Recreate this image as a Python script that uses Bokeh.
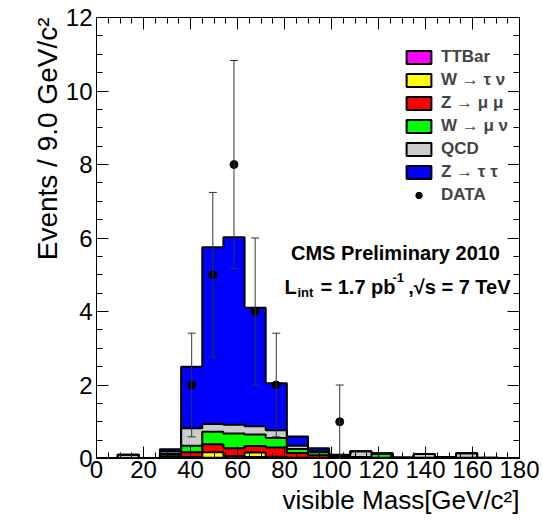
import numpy as np
from bokeh.plotting import figure
from bokeh.models import (Range1d, LinearAxis, SingleIntervalTicker, Label, Legend, LegendItem,
                          ColumnDataSource, Whisker, TeeHead, CustomJSTickFormatter, Title)
from bokeh.embed import file_html
from bokeh.resources import INLINE

# ---------------- data ----------------
bin_edges = [0, 9, 18, 27, 36, 45, 54, 63, 72, 81, 90, 99, 108, 117, 126, 135, 144, 153, 162, 171, 180]
ttbar    = [0, 0,    0,    0,    0.01, 0.02, 0.05, 0.04, 0.02, 0,    0,    0,    0,    0,    0,    0,    0,    0,    0,    0]
w_taunu  = [0, 0,    0,    0.01, 0.03, 0.15, 0.02, 0.12, 0.03, 0.02, 0,    0,    0,    0,    0,    0,    0,    0,    0,    0]
z_mumu   = [0, 0,    0,    0.05, 0.13, 0.22, 0.21, 0.18, 0.25, 0.13, 0.09, 0.02, 0,    0.02, 0,    0,    0,    0,    0,    0]
w_munu   = [0, 0,    0,    0.06, 0.18, 0.34, 0.40, 0.31, 0.26, 0.11, 0.08, 0.05, 0.04, 0.10, 0,    0.02, 0,    0.02, 0,    0]
qcd      = [0, 0.10, 0.01, 0.07, 0.47, 0.21, 0.24, 0.23, 0.21, 0.09, 0.02, 0.02, 0.16, 0.02, 0.03, 0.10, 0.04, 0.12, 0.02, 0]
z_tautau = [0, 0,    0,    0.06, 1.68, 4.81, 5.10, 3.22, 1.28, 0.25, 0.09, 0.01, 0,    0,    0,    0,    0,    0,    0,    0]

data_x   = [40.5, 49.5, 58.5, 67.5, 76.5, 103.5]
data_n   = [2, 5, 8, 4, 2, 1]
data_err = [1.41, 2.24, 2.83, 2.0, 1.41, 1.0]

layer_names  = ["TTBar", "W \u2192 \u03c4 \u03bd", "Z \u2192 \u03bc \u03bc", "W \u2192 \u03bc \u03bd", "QCD", "Z \u2192 \u03c4 \u03c4"]
layer_colors = ["#FF00FF", "#FFFF00", "#FF0000", "#00FF00", "#CCCCCC", "#0000FF"]
layers = [ttbar, w_taunu, z_mumu, w_munu, qcd, z_tautau]

x_title = "visible Mass[GeV/c\u00b2]"
y_title = "Events / 9.0 GeV/c\u00b2"

# ---------------- geometry ----------------
W, H = 543, 520
FL, FT, FR, FB = 96, 17, 519, 458       # frame in canvas pixels
XMIN, XMAX, YMIN, YMAX = 0, 180, 0, 12
FONT = "Liberation Sans"

def px2x(px):
    return XMIN + (px - FL) / (FR - FL) * (XMAX - XMIN)

def py2y(py):
    return YMIN + (FB - py) / (FB - FT) * (YMAX - YMIN)

p = figure(width=W, height=H, output_backend="svg", toolbar_location=None,
           x_range=Range1d(XMIN, XMAX), y_range=Range1d(YMIN, YMAX),
           min_border_left=FL, min_border_top=FT, min_border_right=W - FR, min_border_bottom=H - FB,
           x_axis_type=None, y_axis_type=None)
p.background_fill_color = "white"
p.border_fill_color = "white"
p.outline_line_color = "black"
p.outline_line_width = 1
p.xgrid.visible = False
p.ygrid.visible = False

def style_axis(ax, labels=True):
    ax.axis_line_color = "black"
    ax.axis_line_width = 1
    ax.major_tick_in = 12
    ax.major_tick_out = 0
    ax.minor_tick_in = 6
    ax.minor_tick_out = 0
    ax.major_tick_line_color = "black"
    ax.minor_tick_line_color = "black"
    if labels:
        ax.major_label_text_font = FONT
        ax.major_label_text_font_size = "24px"
        ax.major_label_text_color = "black"
    else:
        ax.formatter = CustomJSTickFormatter(code="return ''")
        ax.major_label_text_font_size = "1px"
        ax.major_label_standoff = 0

xb = LinearAxis(ticker=SingleIntervalTicker(interval=20, num_minor_ticks=4)); style_axis(xb); xb.major_label_standoff = 2
yl = LinearAxis(ticker=SingleIntervalTicker(interval=2, num_minor_ticks=4)); style_axis(yl); yl.major_label_standoff = 4
xa = LinearAxis(ticker=SingleIntervalTicker(interval=20, num_minor_ticks=4)); style_axis(xa, False)
yr = LinearAxis(ticker=SingleIntervalTicker(interval=2, num_minor_ticks=4)); style_axis(yr, False)

p.add_layout(xb, "below")
p.add_layout(yl, "left")
p.add_layout(xa, "above")
p.add_layout(yr, "right")

# axis titles, aligned to the far end of each axis as in the reference
p.add_layout(Title(text=x_title, align="right", text_font=FONT, text_font_size="26px",
                   text_font_style="normal", text_color="black", standoff=5, offset=0), "below")
p.add_layout(Title(text=y_title, align="right", text_font=FONT, text_font_size="28px",
                   text_font_style="normal", text_color="black", standoff=0, offset=0), "left")

# ---------------- stacked histogram ----------------
arr = np.array(layers, dtype=float)
cum = np.cumsum(arr, axis=0)
edges = list(bin_edges)

swatches = []
prev = np.zeros(arr.shape[1])
for i in range(len(layers)):
    top = cum[i]
    p.varea_step(x=edges, y1=list(prev) + [prev[-1]], y2=list(top) + [top[-1]],
                 step_mode="after", fill_color=layer_colors[i])
    # hidden copy used only to draw the outlined legend swatch
    sw = p.quad(left=edges[:-1], right=edges[1:], bottom=list(prev), top=list(top),
                fill_color=layer_colors[i], line_color="black", line_width=2, visible=False)
    swatches.append(sw)
    prev = top
for i in range(len(layers) - 1, -1, -1):
    top = cum[i]
    p.step(x=edges, y=list(top) + [top[-1]], mode="after", line_color="black", line_width=2)

# ---------------- data points ----------------
src = ColumnDataSource(dict(x=data_x, n=data_n,
                            lo=[n - e for n, e in zip(data_n, data_err)],
                            hi=[n + e for n, e in zip(data_n, data_err)]))
wh = Whisker(base="x", upper="hi", lower="lo", source=src, dimension="height",
             line_color="#333333", line_width=1, level="annotation",
             upper_head=TeeHead(size=8, line_color="#333333", line_width=1),
             lower_head=TeeHead(size=8, line_color="#333333", line_width=1))
p.add_layout(wh)
dots = p.scatter(x="x", y="n", source=src, marker="circle", size=8,
                 fill_color="black", line_color="black")

# ---------------- legend ----------------
items = [LegendItem(label=layer_names[i], renderers=[swatches[i]]) for i in range(len(layers))]
items.append(LegendItem(label="DATA", renderers=[dots]))
leg = Legend(items=items, location=(307, 253), orientation="vertical",
             glyph_width=31, glyph_height=16, label_height=16, spacing=3,
             label_standoff=7, padding=0, margin=0,
             label_text_font=FONT, label_text_font_style="bold", label_text_font_size="17px",
             border_line_color=None, background_fill_color="white", background_fill_alpha=1,
             inactive_fill_alpha=0)
p.add_layout(leg)

# ---------------- texts ----------------
def lab(text, px, py, size, align="left", bold=True):
    l = Label(x=px2x(px), y=py2y(py), text=text, text_align=align, text_baseline="alphabetic",
              text_font=FONT, text_font_size=size, text_font_style="bold" if bold else "normal",
              text_color="black")
    p.add_layout(l)

lab("CMS Preliminary 2010", 395, 252, "20px", align="center")
lab("L", 284, 286, "20px")
lab("int", 297, 292, "13px")
lab("= 1.7 pb", 320, 286, "20px")
lab("-1", 392, 277, "13px")
lab(",\u221as = 7 TeV", 510, 286, "20px", align="right")

open("out.html", "w").write(file_html(p, INLINE))
